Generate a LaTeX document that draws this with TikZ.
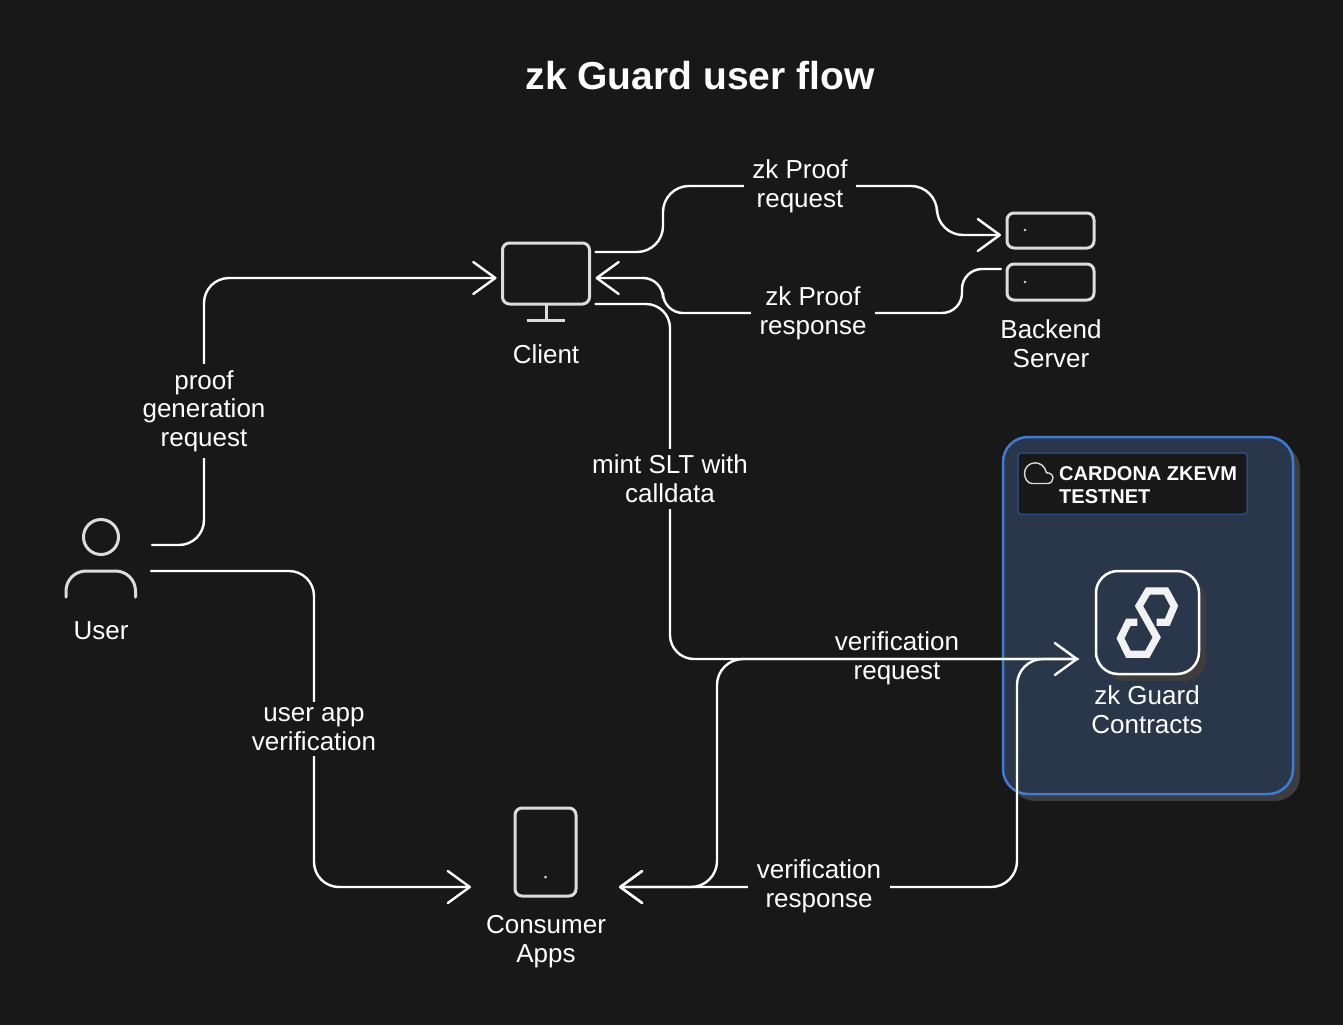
\documentclass[tikz,border=0pt]{standalone}
\usepackage{fontspec}
\setmainfont{Liberation Sans}
\usetikzlibrary{arrows.meta}
\definecolor{bgc}{HTML}{181818}
\definecolor{shadowc}{HTML}{3D3D3D}
\definecolor{panelc}{HTML}{2A3649}
\definecolor{bluec}{HTML}{3D7BD6}
\definecolor{blued}{HTML}{2D5DA0}
\definecolor{iconc}{HTML}{DCDCDC}
\tikzset{
  x=1pt,y=-1pt,
  txt/.style={text=white,font=\fontsize{26}{28.7}\selectfont,align=center,inner sep=0pt,outer sep=0pt},
  edgelabel/.style={txt,fill=bgc,inner xsep=8pt,inner ysep=6pt},
  iconbox/.style={draw=iconc,line width=3pt,outer sep=0pt,inner sep=0pt,rounded corners=#1},
  flow/.style={draw=white,line width=2.4pt,line join=round,line cap=round},
  tipped/.style={flow,-{Straight Barb[length=22pt,width=32pt,line width=2.4pt,round]}},
  shadowfill/.style={fill=shadowc,rounded corners=#1},
}
\begin{document}
\begin{tikzpicture}
\useasboundingbox (0,0) rectangle (1343,1025);
\fill[bgc] (0,0) rectangle (1343,1025);

% network panel
\fill[shadowfill=25] (1010,444) rectangle (1300,801);
\node[draw=bluec,fill=panelc,line width=2.5pt,rounded corners=25,minimum width=290pt,minimum height=357pt,outer sep=0pt,inner sep=0pt] (panel) at (1148,615.5) {};
\node[draw=blued,fill=bgc,line width=1pt,rounded corners=3,minimum width=229pt,minimum height=61pt,outer sep=0pt,inner sep=0pt] (netbox) at (1132.5,483.5) {};
\node[text=white,font=\fontsize{20}{23}\bfseries\selectfont,align=left,anchor=west,inner sep=0pt] (nettext) at (1059,485) {CARDONA ZKEVM\\TESTNET};
\draw[iconc,line width=1.4pt,line join=round] (1032,483.5) -- (1047,483.5)
  .. controls (1051,483.5) and (1053,481) .. (1053,478)
  .. controls (1053,475) and (1050,472.5) .. (1046.5,472.8)
  .. controls (1045,466) and (1040,462.8) .. (1035,462.8)
  .. controls (1029,462.8) and (1024.5,468) .. (1024.5,473)
  .. controls (1024.5,479) and (1028,483.5) .. (1032,483.5) -- cycle;

% contracts icon
\fill[shadowfill=22] (1103,578) rectangle (1206,681);
\node[draw=white,fill=panelc,line width=2.5pt,rounded corners=22,minimum size=103pt,outer sep=0pt,inner sep=0pt] (contracts) at (1147.5,622.5) {};
\draw[white!95!black,line width=7.2pt,line join=miter] (1156.7,622.3) -- (1167.3,622.3) -- (1174.2,606) -- (1166,591) -- (1148,591) -- (1139,606) -- (1156.7,637.3) -- (1147.3,654.3) -- (1128.3,654.3) -- (1120.5,638.3) -- (1128.3,622.3) -- (1137.3,622.3);

% client icon
\node[iconbox=7,minimum width=87pt,minimum height=61pt] (client) at (546,273.5) {};
\coordinate (standb) at (546,320);
\draw[iconc,line width=3pt] (client.south) -- (standb);
\draw[iconc,line width=3pt] (527,320) -- (565,320);

% server icons
\node[iconbox=7,minimum width=87pt,minimum height=35pt] (srvtop) at (1050.5,230.5) {};
\node[iconbox=7,minimum width=87pt,minimum height=36pt] (srvbot) at (1050.5,282) {};
\fill[iconc] (1025,230) circle (1.3);
\fill[iconc] (1025,282) circle (1.3);

% phone icon
\node[iconbox=7,minimum width=61pt,minimum height=88pt] (apps) at (545.5,852) {};
\fill[iconc] (545.5,877) circle (1.5);

% user icon
\node[draw=iconc,line width=3pt,circle,minimum size=35pt,inner sep=0pt,outer sep=0pt] (user) at (101,537) {};
\draw[iconc,line width=3pt,line cap=round,rounded corners=20] (66,597) -- (66,571) -- (135.5,571) -- (135.5,597);
\coordinate (userbody) at (101,571);

% texts
\node[txt] (title) at (700,76) {\fontsize{39}{44}\bfseries\selectfont zk Guard user flow};
\node[txt] (clientlbl) at (546,354) {Client};
\node[txt] (backendlbl) at (1051,344) {Backend\\Server};
\node[txt] (userlbl) at (101,631) {User};
\node[txt] (appslbl) at (546,941.5) {Consumer\\Apps};
\node[txt] (contractslbl) at (1147,710) {zk Guard\\Contracts};

% connectors
\draw[tipped,rounded corners=25] ([shift={(33.5,8)}]user.east) -| (204,278) -- ([shift={(-6,4.5)}]client.west);
\node[edgelabel] (l1) at (204,411) {proof\\generation\\request};

\draw[tipped,rounded corners=25] ([shift={(32.5,34)}]user.east) -| (314,887) -- ([shift={(-44,35)}]apps.west);
\node[edgelabel] (l2) at (314,729) {user app\\verification};

\draw[tipped,rounded corners=26] ([shift={(6,-21.5)}]client.east) -| (663,186) -- (937,186) |- ([shift={(-6,4.5)}]srvtop.west);
\node[edgelabel] (l3) at (800,186) {zk Proof\\request};

\draw[tipped,rounded corners=20] ([shift={(-6,-13)}]srvbot.west) -| (962,313) -- (663,313) |- ([shift={(6,4.5)}]client.east);
\node[edgelabel,inner xsep=9pt] (l4) at (813,313) {zk Proof\\response};

\draw[tipped,rounded corners=24] ([shift={(6,30.5)}]client.east) -- (670,304) -- (670,659) -- ([shift={(-18,36.5)}]contracts.west);
\node[edgelabel] (l5) at (670,479) {mint SLT with\\calldata};

\draw[tipped,rounded corners=26] ([shift={(-18,36.5)}]contracts.west) -- (717,659) -- (717,887) -- ([shift={(43,35)}]apps.east);
\draw[tipped,rounded corners=26] ([shift={(-18,36.5)}]contracts.west) -- (1017,659) -- (1017,887) -- ([shift={(43,35)}]apps.east);
\node[edgelabel,inner xsep=9pt] (l6) at (819,886.5) {verification\\response};
\node[txt] (l7) at (897,658.5) {verification\\request};
\end{tikzpicture}
\end{document}
